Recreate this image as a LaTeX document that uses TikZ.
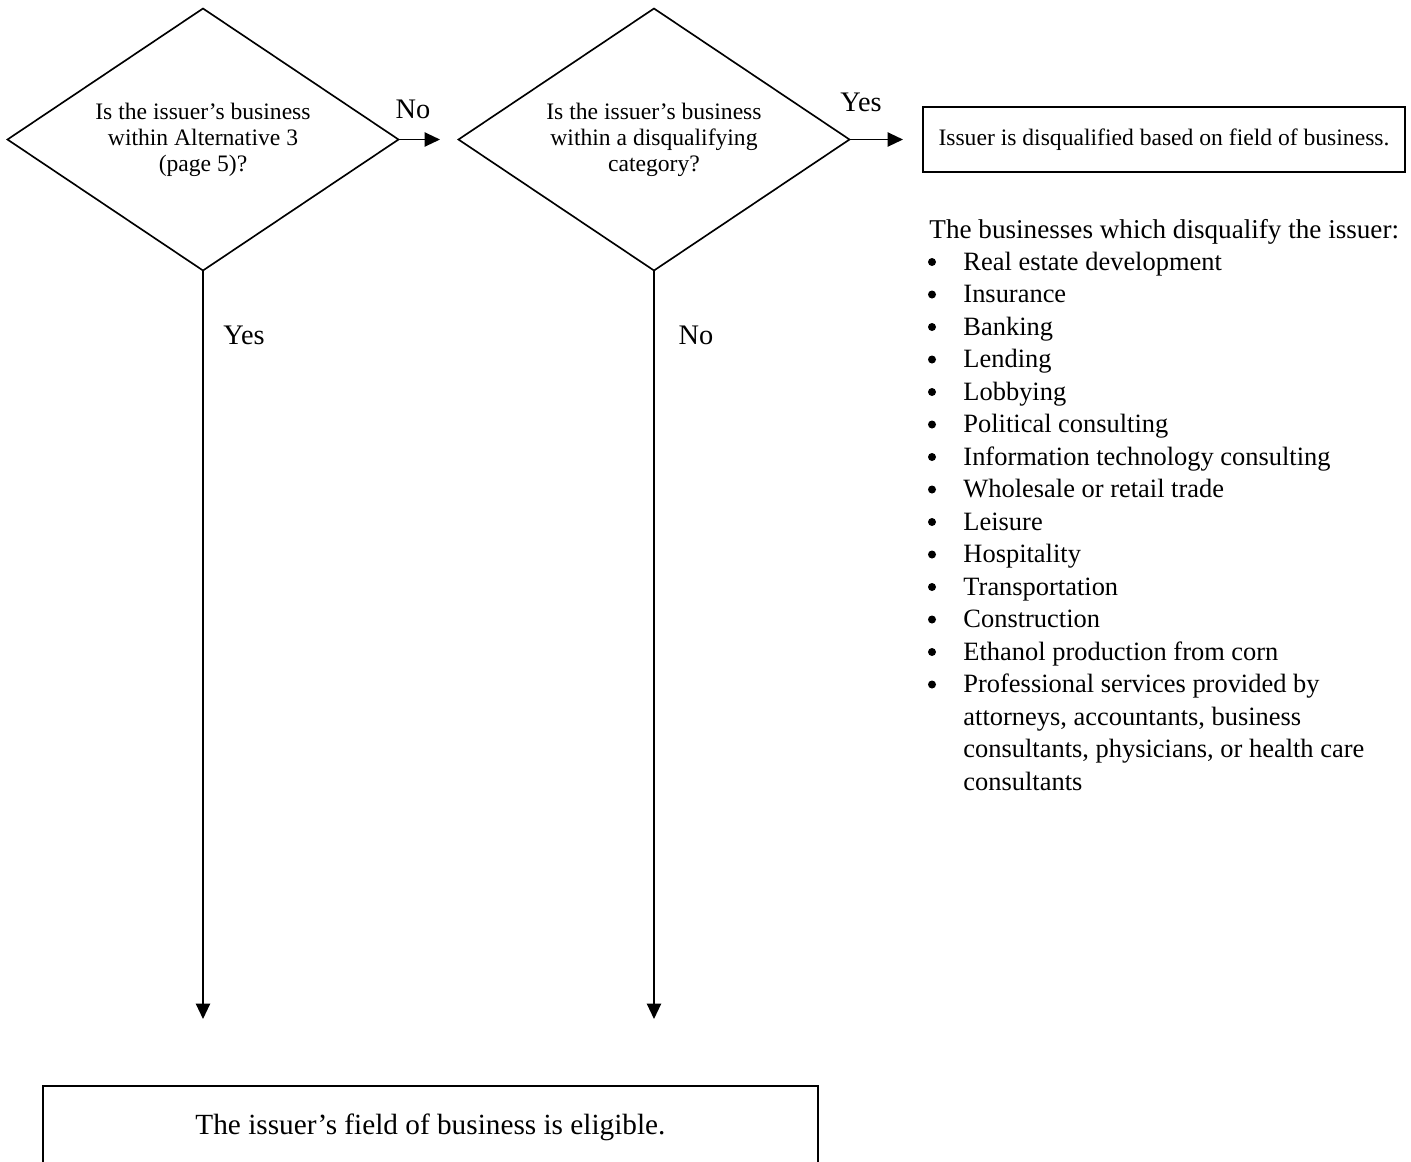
\documentclass[tikz,border=0pt]{standalone}
\usepackage{fontspec}
\setmainfont{Liberation Serif}
\usetikzlibrary{shapes.geometric,arrows.meta}
\newcommand\pxu{0.4237pt}
\tikzset{
  question/.style={diamond,aspect=1.5,draw,line width=0.7pt,inner sep=0pt,outer sep=0pt,
    minimum width=391*\pxu,minimum height=262*\pxu,align=center,
    font=\fontsize{10}{11}\selectfont},
  result/.style={draw,line width=0.8pt,inner sep=0pt,outer sep=0pt,
    font=\fontsize{10}{11}\selectfont},
  flow/.style={line width=0.7pt,-{Triangle[length=6.5pt,width=6pt]}},
  answer/.style={inner sep=0pt,font=\fontsize{12}{13.8}\selectfont},
  listtext/.style={anchor=base west,inner sep=0pt,font=\fontsize{11.2}{13.8}\selectfont},
  listdot/.style={circle,fill,inner sep=0pt,minimum size=8*\pxu}
}
\begin{document}
\begin{tikzpicture}[x=\pxu,y=-\pxu]
\useasboundingbox (0,0) rectangle (1411,1162);
\clip (0,0) rectangle (1411,1162);
\node[question] (alt) at (203,139.5) {Is the issuer's business\\within Alternative 3\\(page 5)?};
\node[question] (cat) at (654,139.5) {Is the issuer's business\\within a disqualifying\\category?};
\node[result,minimum width=482*\pxu,minimum height=65*\pxu] (disq) at (1164,139.5)
  {Issuer is disqualified based on field of business.};
\node[result,font=\fontsize{12.4}{14}\selectfont,minimum width=775*\pxu,minimum height=82*\pxu]
  (elig) at (430.5,1127) {\raisebox{-1.2pt}{The issuer's field of business is eligible.}};
\coordinate (altno) at (440,139.5);
\coordinate (catyes) at (903,139.5);
\coordinate (altyes) at (203,1019);
\coordinate (catno) at (654,1019);
\draw[flow] (alt.east) -- (altno);
\draw[flow] (cat.east) -- (catyes);
\draw[flow] (alt.south) -- (altyes);
\draw[flow] (cat.south) -- (catno);
\node[answer] (lblaltno) at (413,109) {No};
\node[answer] (lblcatyes) at (861,102) {Yes};
\node[answer] (lblaltyes) at (244,335) {Yes};
\node[answer] (lblcatno) at (696,335) {No};
\node[listtext,font=\fontsize{11.5}{13.8}\selectfont] (head) at (929,238) {The businesses which disqualify the issuer:};
\foreach \i in {1,...,14}
{\node[listdot] (dot\i) at (932,262+32.5*\i-32.5) {};}
\foreach \txt [count=\i] in {Real estate development,Insurance,Banking,Lending,Lobbying,
  Political consulting,Information technology consulting,Wholesale or retail trade,Leisure,
  Hospitality,Transportation,Construction,Ethanol production from corn}
{\node[listtext] (item\i) at (963,270+32.5*\i-32.5) {\txt};}
\node[listtext,text width=250pt,align=flush left] (item14) at (963,270+32.5*13)
  {Professional services provided by\\attorneys, accountants, business\\consultants, physicians, or health care\\consultants};
\end{tikzpicture}
\end{document}
